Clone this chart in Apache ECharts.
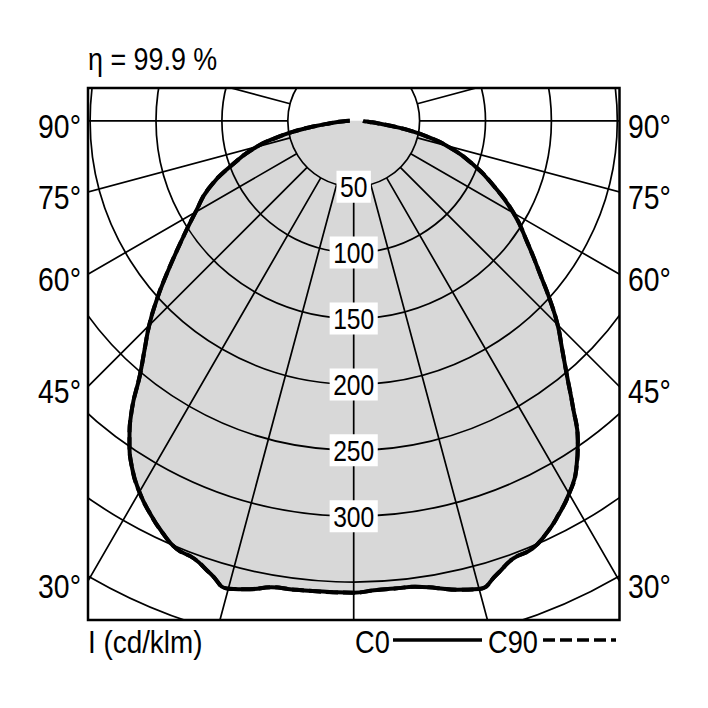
<!DOCTYPE html>
<html><head><meta charset="utf-8">
<script src="https://cdn.jsdelivr.net/npm/echarts/dist/echarts.min.js"></script>
<style>html,body{margin:0;padding:0;background:#fff}#c{width:708px;height:708px}</style>
</head><body><div id="c"></div>
<script>
// Gamma angles (degrees from nadir), shared by both half-planes
const angles = [0, 2.5, 5, 7.5, 10, 12.5, 15, 17.5, 20, 22.5, 25, 27.5, 30, 32.5, 35, 37.5, 40, 42.5, 45, 47.5, 50, 55, 60, 65, 70, 75, 78, 80, 82, 84, 86, 88, 90];
// Luminous intensity I (cd/klm), C0 plane: left half and right half
const c0Left  = [358.0, 358.0, 358.2, 358.6, 359.4, 364.0, 367.5, 360.5, 353.6, 351.4, 344.2, 335.3, 325.2, 312.8, 296.6, 276.6, 252.5, 234.7, 219.4, 203.4, 187.6, 160, 138.6, 121.4, 98.3, 76.2, 58, 45.5, 30, 18, 11, 6, 3];
const c0Right = [358.0, 356.6, 356.3, 356.6, 359.9, 364.5, 367.8, 360.9, 353.5, 352.0, 345.6, 336.8, 326.8, 314.2, 296.5, 273.1, 251.5, 233.9, 218.8, 202.3, 186.4, 160.8, 140.1, 117.5, 96, 73, 56, 44, 30, 19, 12, 8, 7];
// C90 plane (coincides with C0 in the picture)
const c90Left  = [358.0, 358.0, 358.2, 358.6, 359.4, 364.0, 367.5, 360.5, 353.6, 351.4, 344.2, 335.3, 325.2, 312.8, 296.6, 276.6, 252.5, 234.7, 219.4, 203.4, 187.6, 160, 138.6, 121.4, 98.3, 76.2, 58, 45.5, 30, 18, 11, 6, 3];
const c90Right = [358.0, 356.6, 356.3, 356.6, 359.9, 364.5, 367.8, 360.9, 353.5, 352.0, 345.6, 336.8, 326.8, 314.2, 296.5, 273.1, 251.5, 233.9, 218.8, 202.3, 186.4, 160.8, 140.1, 117.5, 96, 73, 56, 44, 30, 19, 12, 8, 7];
// Tick labels
const ringTicks = [50, 100, 150, 200, 250, 300];
const angleTickValues = [90, 75, 60, 45, 30];
const angleTickLabels = ['90°', '75°', '60°', '45°', '30°'];
const titleText = 'η = 99.9 %';
const unitText = 'I (cd/klm)';
const legendNames = ['C0', 'C90'];

// layout
const CX = 353.7, CY = 120.8, K = 1.318;
const FL = 88, FT = 88, FR = 619.5, FB = 620;
const RMAX = 450;
const FONT = '"Liberation Sans", Arial, sans-serif';

function toPolar(left, right) {
  const d = [];
  for (let i = angles.length - 1; i >= 0; i--) d.push([left[i], -angles[i]]);
  for (let i = 1; i < angles.length; i++) d.push([right[i], angles[i]]);
  return d;
}
const c0Data = toPolar(c0Left, c0Right);
const c90Data = toPolar(c90Left, c90Right);

const chart = echarts.init(document.getElementById('c'), null, {renderer: 'svg'});

function txt(x, y, text, size, align, sx, z) {
  return {type: 'text', x: x, y: y, scaleX: sx, z: z || 11,
    style: {text: text, font: size + 'px ' + FONT, fontSize: size, fontFamily: FONT, fill: '#000',
      align: align, verticalAlign: 'middle', textAlign: align, textVerticalAlign: 'middle'}};
}

const graphics = [
  {type: 'rect', z: 10, shape: {x: 0, y: 0, width: 708, height: FT}, style: {fill: '#fff'}},
  {type: 'rect', z: 10, shape: {x: 0, y: FB, width: 708, height: 708 - FB}, style: {fill: '#fff'}},
  {type: 'rect', z: 10, shape: {x: 0, y: 0, width: FL, height: 708}, style: {fill: '#fff'}},
  {type: 'rect', z: 10, shape: {x: FR, y: 0, width: 708 - FR, height: 708}, style: {fill: '#fff'}},
  {type: 'rect', z: 12, shape: {x: FL, y: FT, width: FR - FL, height: FB - FT}, style: {fill: 'none', stroke: '#000', lineWidth: 2.5}},
  txt(FL, 59, titleText, 32, 'left', 0.84),
  txt(FL, 641.5, unitText, 32, 'left', 0.87),
  txt(355, 641.5, legendNames[0], 32, 'left', 0.85),
  txt(488, 641.5, legendNames[1], 32, 'left', 0.85),
  {type: 'line', z: 11, shape: {x1: 393, y1: 640, x2: 482, y2: 640}, style: {stroke: '#000', lineWidth: 3.5}},
  {type: 'line', z: 11, shape: {x1: 543, y1: 640, x2: 616, y2: 640}, style: {stroke: '#000', lineWidth: 3.5, lineDash: [12, 5]}}
];
angleTickValues.forEach(function (a, i) {
  const t = Math.tan(a * Math.PI / 180);
  const y = CY + (CX - FL) / t + 5.5;
  graphics.push(txt(81, y, angleTickLabels[i], 33, 'right', 0.86));
  graphics.push(txt(628, y, angleTickLabels[i], 33, 'left', 0.86));
});

const option = {
  animation: false,
  backgroundColor: '#fff',
  polar: [
    {center: [CX, CY], radius: [50 * K, RMAX * K]},
    {center: [CX, CY], radius: [0, RMAX * K]}
  ],
  angleAxis: [
    {polarIndex: 0, type: 'value', min: 0, max: 360, interval: 15, startAngle: 90, z: 3,
      axisLine: {show: false}, axisTick: {show: false}, axisLabel: {show: false},
      splitLine: {show: true, lineStyle: {color: '#000', width: 1.7}}},
    {polarIndex: 1, type: 'value', min: -180, max: 180, startAngle: 90, clockwise: false,
      axisLine: {show: false}, axisTick: {show: false}, axisLabel: {show: false}, splitLine: {show: false}}
  ],
  radiusAxis: [
    {polarIndex: 0, type: 'value', min: 50, max: RMAX, interval: 50, z: 3,
      axisLine: {show: false}, axisTick: {show: false}, axisLabel: {show: false},
      splitLine: {show: true, lineStyle: {color: '#000', width: 1.7}}},
    {polarIndex: 1, type: 'value', min: 0, max: RMAX,
      axisLine: {show: false}, axisTick: {show: false}, axisLabel: {show: false}, splitLine: {show: false}}
  ],
  series: [
    {name: 'fill', type: 'line', coordinateSystem: 'polar', polarIndex: 1, data: c0Data, z: 1,
      smooth: 0.5, showSymbol: false, silent: true,
      lineStyle: {width: 0, opacity: 0}, areaStyle: {color: '#d8d8d8', opacity: 1}},
    {name: legendNames[1], type: 'line', coordinateSystem: 'polar', polarIndex: 1, data: c90Data, z: 4,
      smooth: 0.5, showSymbol: false,
      lineStyle: {color: '#000', width: 4, type: [12, 5]}},
    {name: legendNames[0], type: 'line', coordinateSystem: 'polar', polarIndex: 1, data: c0Data, z: 5,
      smooth: 0.5, showSymbol: false,
      lineStyle: {color: '#000', width: 4}}
  ],
  graphic: {elements: graphics}
};
chart.setOption(option);

// ring value labels on the nadir spoke, placed through the polar scale
ringTicks.forEach(function (r) {
  let p;
  try { p = chart.convertToPixel({polarIndex: 1}, [r, 0]); } catch (e) { p = null; }
  if (!p || isNaN(p[1])) p = [CX, CY + r * K];
  const s = String(r);
  const w = s.length * 0.556 * 29 * 0.85 + 7;
  graphics.push({type: 'rect', z: 7, shape: {x: p[0] - w / 2, y: p[1] - 16, width: w, height: 32}, style: {fill: '#fff'}});
  graphics.push(txt(p[0], p[1] + 1, s, 29, 'center', 0.85, 8));
});
chart.setOption({graphic: {elements: graphics}});
</script>
</body></html>
